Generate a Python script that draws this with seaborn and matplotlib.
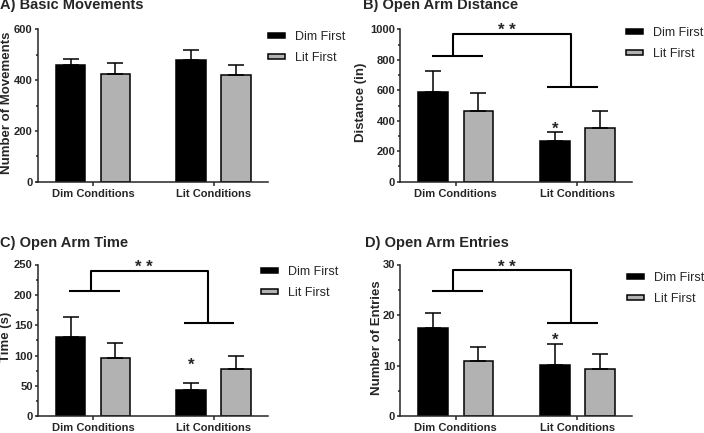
import numpy as np
import pandas as pd
import seaborn as sns
import matplotlib
matplotlib.use("Agg")
import matplotlib.pyplot as plt
from matplotlib.patches import Patch
from matplotlib.ticker import MultipleLocator

# Data
conditions = ["Dim Conditions", "Lit Conditions"]
orders = ["Dim First", "Lit First"]

movements_dim_first = [459, 478]
movements_lit_first = [423, 421]
movements_err_dim_first = [23, 39]
movements_err_lit_first = [43, 38]

distance_dim_first = [590, 265]
distance_lit_first = [464, 352]
distance_err_dim_first = [138, 59]
distance_err_lit_first = [120, 114]

time_dim_first = [131, 44]
time_lit_first = [96, 78]
time_err_dim_first = [33, 11]
time_err_lit_first = [24.5, 21]

entries_dim_first = [17.4, 10.2]
entries_lit_first = [11.0, 9.4]
entries_err_dim_first = [3.0, 4.0]
entries_err_lit_first = [2.6, 2.9]

# significance bracket levels (dim line, top line, lit line)
distance_bracket = [825, 967, 620]
time_bracket = [206, 240, 154]
entries_bracket = [24.8, 28.9, 18.5]

# star heights (centre of "**" and "*")
distance_stars = [1020, 372]
time_stars = [252, 91]
entries_stars = [30.4, 15.9]

palette = ["black", "#b2b2b2"]
W, H = 704, 433


def make_frame(dim_first, lit_first):
    return pd.DataFrame({
        "condition": conditions * 2,
        "order": [orders[0]] * 2 + [orders[1]] * 2,
        "value": list(dim_first) + list(lit_first),
    })


def draw_panel(ax, dim_first, lit_first, err_dim, err_lit, ylim, major, minor, ylabel, label_px):
    df = make_frame(dim_first, lit_first)
    sns.barplot(data=df, x="condition", y="value", hue="order", order=conditions,
                hue_order=orders, palette=palette, edgecolor="black", linewidth=1.1,
                width=0.745, gap=0.34, errorbar=None, legend=False, ax=ax)
    errs = [err_dim, err_lit]
    for container, err in zip(ax.containers, errs):
        xs = [b.get_x() + b.get_width() / 2 for b in container]
        ys = [b.get_height() for b in container]
        ax.errorbar(xs, ys, yerr=[np.zeros(len(err)), err], fmt="none", ecolor="black",
                    elinewidth=1.1, capsize=5.5, capthick=1.1, zorder=1)
    ax.set_xlim(-0.46, 1.45)
    ax.set_ylim(*ylim)
    ax.yaxis.set_major_locator(MultipleLocator(major))
    ax.yaxis.set_minor_locator(MultipleLocator(minor))
    ax.set_xlabel("")
    ax.set_ylabel(ylabel, fontsize=9.5, fontweight="bold")
    # place label by its pixel distance from the y spine
    ax_w = ax.get_position().width * W
    ax.yaxis.set_label_coords(label_px / ax_w, 0.52)
    sns.despine(ax=ax)
    for s in ["left", "bottom"]:
        ax.spines[s].set_linewidth(1.1)
    ax.tick_params(axis="y", which="major", length=2.5, width=1.1, pad=1)
    ax.tick_params(axis="y", which="minor", length=1.6, width=1.1)
    ax.tick_params(axis="x", length=3, width=1.1, pad=2)
    for lab in ax.get_xticklabels() + ax.get_yticklabels():
        lab.set_fontsize(8)
        lab.set_fontweight("bold")


def draw_bracket(ax, levels, stars):
    y_dim, y_top, y_lit = levels
    kw = dict(color="black", lw=1.5, clip_on=False, solid_capstyle="butt")
    ax.plot([-0.2, 0.22], [y_dim, y_dim], **kw)
    ax.plot([0.75, 1.17], [y_lit, y_lit], **kw)
    ax.plot([-0.02, -0.02, 0.95, 0.95], [y_dim, y_top, y_top, y_lit], **kw)
    ax.annotate("* *", xy=(0.42, stars[0]), xytext=(0, -6.5), textcoords="offset points",
                ha="center", va="baseline", fontsize=12, fontweight="bold", annotation_clip=False)
    bar = ax.containers[0][1]
    cx = bar.get_x() + bar.get_width() / 2
    ax.annotate("*", xy=(cx, stars[1]), xytext=(0, -6.5), textcoords="offset points",
                ha="center", va="baseline", fontsize=12, fontweight="bold", annotation_clip=False)


def add_legend(fig, left_px, top_px):
    handles = [Patch(facecolor=c, edgecolor="black", linewidth=1.1) for c in palette]
    fig.legend(handles, orders, loc="upper left",
               bbox_to_anchor=(left_px / W, 1 - top_px / H), bbox_transform=fig.transFigure,
               frameon=False, fontsize=9, borderpad=0, borderaxespad=0,
               handlelength=1.35, handleheight=0.22, handletextpad=0.8, labelspacing=0.75)


sns.set_style("ticks")
plt.rcParams["font.family"] = ["Liberation Sans", "DejaVu Sans"]

fig = plt.figure(figsize=(7.04, 4.33), dpi=100)


def axes_px(left, top, right, bottom):
    return fig.add_axes([left / W, 1 - bottom / H, (right - left) / W, (bottom - top) / H])


ax_a = axes_px(37.5, 29.3, 268, 181.7)
ax_b = axes_px(400, 29.3, 632, 181.7)
ax_c = axes_px(37.5, 264.5, 268, 416.3)
ax_d = axes_px(400, 264.5, 632, 416.3)

draw_panel(ax_a, movements_dim_first, movements_lit_first, movements_err_dim_first,
           movements_err_lit_first, (0, 600), 200, 100, "Number of Movements", -24)
draw_panel(ax_b, distance_dim_first, distance_lit_first, distance_err_dim_first,
           distance_err_lit_first, (0, 1000), 200, 100, "Distance (in)", -33)
draw_panel(ax_c, time_dim_first, time_lit_first, time_err_dim_first,
           time_err_lit_first, (0, 250), 50, 25, "Time (s)", -25)
draw_panel(ax_d, entries_dim_first, entries_lit_first, entries_err_dim_first,
           entries_err_lit_first, (0, 30), 10, 5, "Number of Entries", -17)

draw_bracket(ax_b, distance_bracket, distance_stars)
draw_bracket(ax_c, time_bracket, time_stars)
draw_bracket(ax_d, entries_bracket, entries_stars)

titles = [("A) Basic Movements", 0, 9.5), ("B) Open Arm Distance", 363, 9.5),
          ("C) Open Arm Time", 0, 247.5), ("D) Open Arm Entries", 365, 247.5)]
for text, x, y in titles:
    fig.text(x / W, 1 - y / H, text, fontsize=10.5, fontweight="bold", va="baseline", ha="left")

add_legend(fig, 268, 31)
add_legend(fig, 626, 27)
add_legend(fig, 261, 266)
add_legend(fig, 627, 272)

fig.savefig("out.png", dpi=100)
